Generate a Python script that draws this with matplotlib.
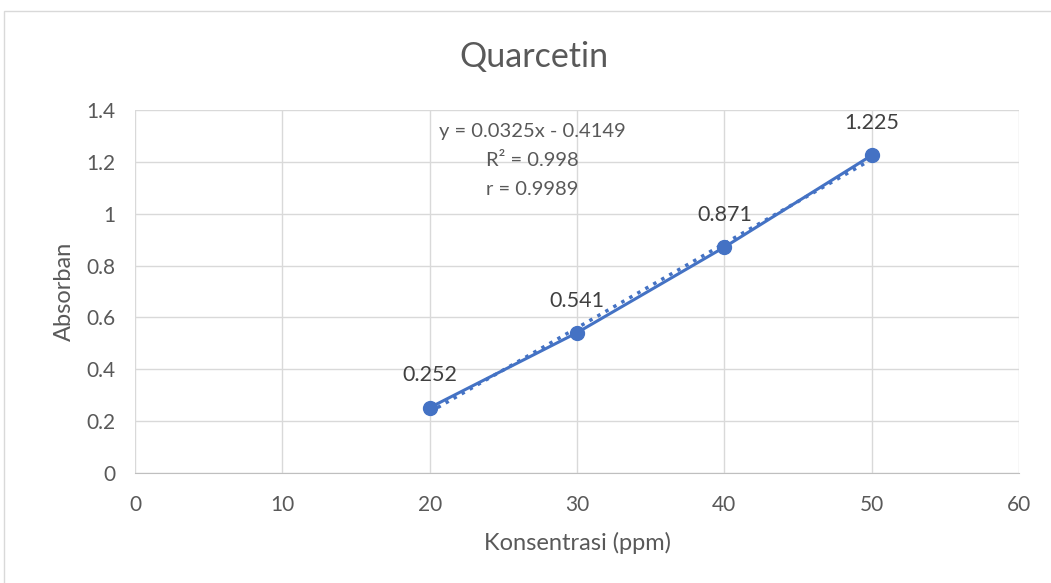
import matplotlib.pyplot as plt
import numpy as np
from matplotlib.patches import Rectangle

plt.rcParams['font.family'] = ['Lato', 'DejaVu Sans']

konsentrasi = [20, 30, 40, 50]
absorban = [0.252, 0.541, 0.871, 1.225]
label_teks = ['0.252', '0.541', '0.871', '1.225']
persamaan = 'y = 0.0325x - 0.4149\nR² = 0.998\nr = 0.9989'

biru = '#4472c4'
abu = '#595959'

fig = plt.figure(figsize=(10.51, 5.83), dpi=100)
W, H = 1051, 583

# bingkai chart
fig.patches.append(Rectangle((4 / W, -0.05), 1.2, 1 - 11 / H + 0.05,
                             transform=fig.transFigure, fill=False,
                             edgecolor='#d9d9d9', linewidth=1))

ax = fig.add_axes([135 / W, (H - 473) / H, 884 / W, 363 / H])
ax.set_xlim(0, 60)
ax.set_ylim(0, 1.4)
ax.set_xticks(np.arange(0, 61, 10))
ax.set_yticks(np.arange(0, 1.41, 0.2))
ax.set_yticklabels(['0', '0.2', '0.4', '0.6', '0.8', '1', '1.2', '1.4'])
ax.grid(True, color='#d9d9d9', linewidth=1)
ax.set_axisbelow(True)
for s in ['top', 'right', 'left']:
    ax.spines[s].set_visible(False)
ax.spines['bottom'].set_color('#bfbfbf')
ax.tick_params(axis='x', length=0, labelsize=15, colors=abu, pad=16)
ax.tick_params(axis='y', length=0, labelsize=15, colors=abu, pad=14)

# garis tren
k = np.polyfit(konsentrasi, absorban, 1)
xt = np.array([konsentrasi[0], konsentrasi[-1]])
ax.plot(xt, k[0] * xt + k[1], ':', color=biru, linewidth=2.5)

ax.plot(konsentrasi, absorban, '-o', color=biru, linewidth=2.2,
        markersize=10, zorder=3)

for x, y, t in zip(konsentrasi, absorban, label_teks):
    ax.annotate(t, (x, y), xytext=(0, 16), textcoords='offset points',
                ha='center', va='bottom', fontsize=15.5, color='#404040')

ax.text(0.449, 0.965, persamaan, transform=ax.transAxes, ha='center',
        va='top', fontsize=14.5, color=abu, linespacing=1.85)

ax.set_xlabel('Konsentrasi (ppm)', fontsize=17, color=abu, labelpad=12)
ax.set_ylabel('Absorban', fontsize=17, color=abu, labelpad=8)
fig.text(534 / W, 1 - 57 / H, 'Quarcetin', ha='center', va='center',
         fontsize=24.5, color=abu)

fig.savefig('out.png', dpi=100)
